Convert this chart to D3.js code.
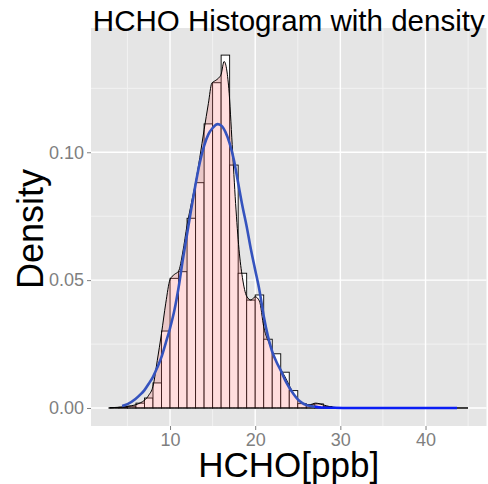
<!DOCTYPE html>
<html>
<head>
<meta charset="utf-8">
<script src="https://cdn.jsdelivr.net/npm/d3@7"></script>
<style>
  html, body { margin: 0; padding: 0; background: #ffffff; }
  svg { display: block; }
  text { font-family: "Liberation Sans", Arial, sans-serif; }
</style>
</head>
<body>
<script>
// ---------- data ----------
const titleText = "HCHO Histogram with density";
const xTitle = "HCHO[ppb]";
const yTitle = "Density";

// histogram bins: left edges (binwidth 1) and density heights
const binStarts = [3,4,5,6,7,8,9,10,11,12,13,14,15,16,17,18,19,20,21,22,23,24,25,26,27,28,29,30,31,32,33,34,35,36,37,38,39,40,41,42,43,44];
const binDensity = [0.0002,0.0003,0.0007,0.0019,0.0039,0.0098,0.0301,0.0507,0.0533,0.0742,0.0881,0.1111,0.1272,0.1380,0.0950,0.0527,0.0422,0.0442,0.0269,0.0212,0.0140,0.0068,0.0017,0.0013,0.0016,0.0006,0.0002,0.0001,0,0,0,0,0,0,0,0,0,0,0,0,0,0];

// kernel density (black outline, pink fill)
const kdeX = [2.79,3.5,4.5,5.5,6.0,6.5,7.0,7.5,8.0,8.5,9.0,9.5,10.0,10.5,11.0,11.5,12.0,12.5,13.0,13.5,14.0,14.5,14.9,15.3,15.7,16.0,16.35,16.9,17.3,17.7,18.1,18.5,19.0,19.5,20.0,20.5,21.0,21.8,22.5,23.5,24.5,25.3,26.3,27.1,27.9,28.8,30.0,32.0,36.0,40.0,44.99];
const kdeY = [0,0.0002,0.0004,0.0009,0.0013,0.0020,0.0030,0.0050,0.0085,0.0185,0.0292,0.0410,0.0502,0.0522,0.0535,0.0610,0.0715,0.0800,0.0882,0.0980,0.1088,0.1190,0.1270,0.1280,0.1290,0.1305,0.1355,0.1250,0.1030,0.0800,0.0620,0.0510,0.0437,0.0422,0.0435,0.0418,0.0318,0.0240,0.0181,0.0122,0.0057,0.0025,0.0012,0.0019,0.0013,0.0005,0.0001,0,0,0,0];

// fitted curve (blue)
const fitX = [4.37,5.0,5.94,6.5,7.0,7.5,8.0,8.5,9.0,9.5,10.0,10.5,11.0,11.5,12.0,12.5,13.0,13.5,14.0,14.5,15.0,15.6,16.0,16.5,17.0,17.5,18.0,18.5,19.0,19.5,20.0,20.5,21.0,21.5,22.0,22.5,23.0,23.5,24.0,24.5,25.0,25.5,26.0,26.5,27.0,27.7,29.0,31.0,35.0,40.0,43.7];
const fitY = [0.0008,0.0015,0.0035,0.0052,0.0070,0.0095,0.0122,0.0158,0.0200,0.0255,0.0312,0.0380,0.0470,0.0580,0.0680,0.0780,0.0875,0.0960,0.1025,0.1070,0.1095,0.1110,0.1105,0.1080,0.1035,0.0970,0.0880,0.0790,0.0710,0.0620,0.0540,0.0460,0.0360,0.0280,0.0220,0.0180,0.0147,0.0110,0.0080,0.0055,0.0034,0.0020,0.0012,0.0008,0.0005,0.0002,0.0001,0,0,0,0];

const xMajor = [10,20,30,40];
const xMinor = [5,15,25,35,45];
const yMajor = [0.00,0.05,0.10];
const yMinor = [0.025,0.075,0.125];
const yTickLabels = ["0.00","0.05","0.10"];

// ---------- layout ----------
const W = 488, H = 484;
const P = {left: 91, right: 486.5, top: 28, bottom: 426};

const svg = d3.select("body").append("svg").attr("width", W).attr("height", H);

const x = d3.scaleLinear().domain([0.72, 47.16]).range([P.left, P.right]);
const y = d3.scaleLinear().domain([-0.00704, 0.1486]).range([P.bottom, P.top]);

// panel background
svg.append("rect").attr("x", P.left).attr("y", P.top)
  .attr("width", P.right - P.left).attr("height", P.bottom - P.top)
  .attr("fill", "#E5E5E5");

const grid = svg.append("g");
grid.selectAll(".vmin").data(xMinor).enter().append("line")
  .attr("x1", d => x(d)).attr("x2", d => x(d)).attr("y1", P.top).attr("y2", P.bottom)
  .attr("stroke", "#F2F2F2").attr("stroke-width", 1);
grid.selectAll(".hmin").data(yMinor).enter().append("line")
  .attr("y1", d => y(d)).attr("y2", d => y(d)).attr("x1", P.left).attr("x2", P.right)
  .attr("stroke", "#F2F2F2").attr("stroke-width", 1);
grid.selectAll(".vmaj").data(xMajor).enter().append("line")
  .attr("x1", d => x(d)).attr("x2", d => x(d)).attr("y1", P.top).attr("y2", P.bottom)
  .attr("stroke", "#FFFFFF").attr("stroke-width", 1.4);
grid.selectAll(".hmaj").data(yMajor).enter().append("line")
  .attr("y1", d => y(d)).attr("y2", d => y(d)).attr("x1", P.left).attr("x2", P.right)
  .attr("stroke", "#FFFFFF").attr("stroke-width", 1.4);

// histogram bars
const bins = binStarts.map((s, i) => ({x0: s, x1: s + 1, d: binDensity[i]}));
svg.append("g").selectAll("rect").data(bins).enter().append("rect")
  .attr("x", d => x(d.x0)).attr("width", d => x(d.x1) - x(d.x0))
  .attr("y", d => y(d.d)).attr("height", d => y(0) - y(d.d))
  .attr("fill", "#FFFFFF").attr("stroke", "#000000").attr("stroke-width", 0.9);

// density polygon
const kde = kdeX.map((v, i) => [v, kdeY[i]]);
const area = d3.area().x(d => x(d[0])).y0(y(0)).y1(d => y(d[1])).curve(d3.curveMonotoneX);
svg.append("path").datum(kde).attr("d", area)
  .attr("fill", "#FF6666").attr("fill-opacity", 0.22)
  .attr("stroke", "#000000").attr("stroke-width", 1);

// fitted curve
const fit = fitX.map((v, i) => [v, fitY[i]]);
const line = d3.line().x(d => x(d[0])).y(d => y(d[1])).curve(d3.curveMonotoneX);
svg.append("path").datum(fit.filter(d => d[0] <= 27.7)).attr("d", line)
  .attr("fill", "none").attr("stroke", "#3553BE").attr("stroke-width", 2.6);
svg.append("path").datum(fit.filter(d => d[0] >= 27.0)).attr("d", line)
  .attr("fill", "none").attr("stroke", "#0A1EF5").attr("stroke-width", 2.6);

// axes
const xAxis = d3.axisBottom(x).tickValues(xMajor).tickSize(4).tickPadding(3).tickFormat(d3.format("d"));
const gx = svg.append("g").attr("transform", `translate(0,${P.bottom})`).call(xAxis);
gx.select(".domain").remove();
gx.selectAll("line").attr("stroke", "#7F7F7F");
gx.selectAll("text").attr("fill", "#7F7F7F").attr("font-size", 18)
  .attr("font-family", "'Liberation Sans', Arial, sans-serif");

const yAxis = d3.axisLeft(y).tickValues(yMajor).tickSize(4).tickPadding(3)
  .tickFormat((d, i) => yTickLabels[i]);
const gy = svg.append("g").attr("transform", `translate(${P.left},0)`).call(yAxis);
gy.select(".domain").remove();
gy.selectAll("line").attr("stroke", "#7F7F7F");
gy.selectAll("text").attr("fill", "#7F7F7F").attr("font-size", 18)
  .attr("font-family", "'Liberation Sans', Arial, sans-serif");

// titles
svg.append("text").attr("x", (P.left + P.right) / 2).attr("y", 31)
  .attr("text-anchor", "middle").attr("font-size", 29.5).attr("fill", "#000")
  .text(titleText);
svg.append("text").attr("x", (P.left + P.right) / 2).attr("y", 477)
  .attr("text-anchor", "middle").attr("font-size", 35).attr("fill", "#000")
  .text(xTitle);
svg.append("text").attr("transform", `translate(43,229) rotate(-90)`)
  .attr("text-anchor", "middle").attr("font-size", 36).attr("fill", "#000")
  .text(yTitle);
</script>
</body>
</html>
